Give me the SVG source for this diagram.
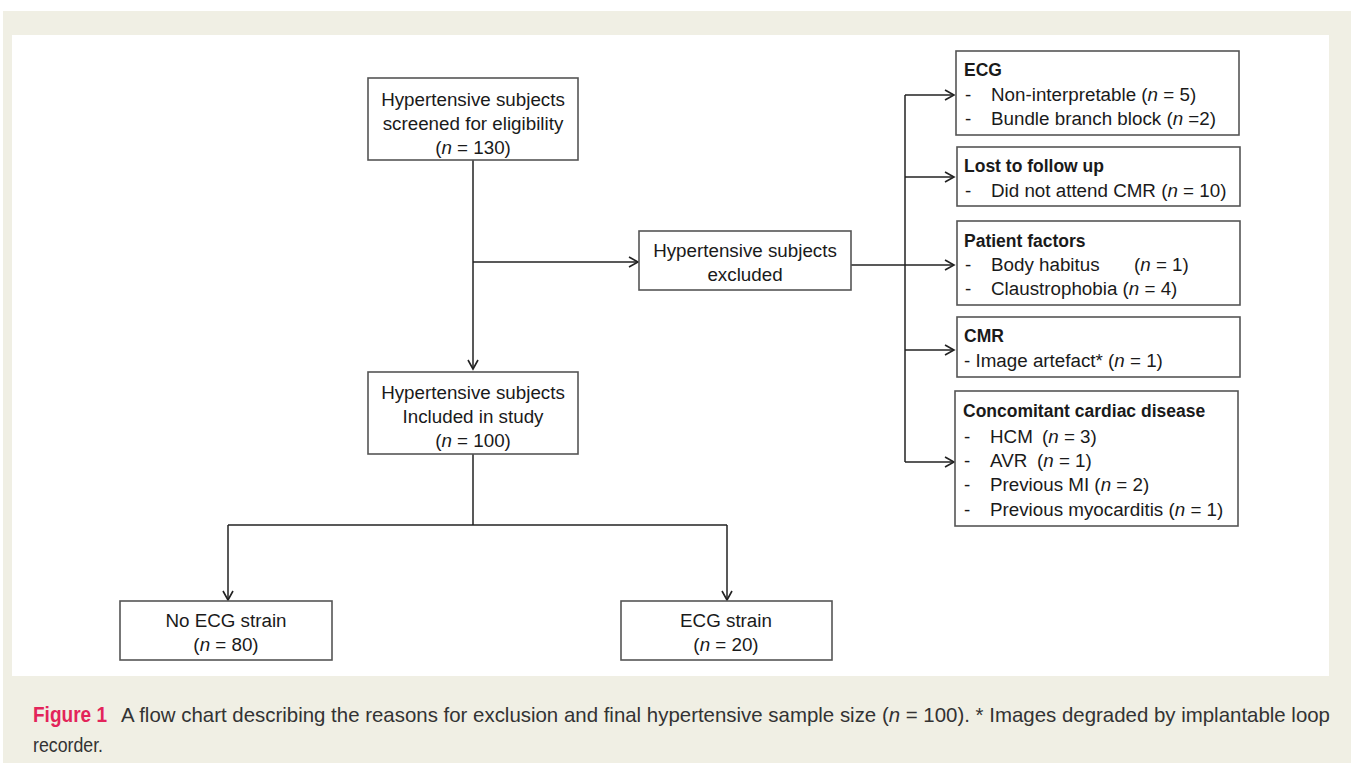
<svg xmlns="http://www.w3.org/2000/svg" width="1354" height="763" viewBox="0 0 1354 763">
<defs>
<marker id="arr" markerWidth="12" markerHeight="12" refX="10" refY="6" orient="auto" markerUnits="userSpaceOnUse">
<path d="M1,1 L10,6 L1,11" fill="none" stroke="#222" stroke-width="1.6"/>
</marker>
</defs>
<style>
.box{fill:#fff;stroke:#555;stroke-width:1.6}
.t{font-family:"Liberation Sans",Arial,sans-serif;font-size:18.8px;fill:#1a1a1a}
.c{text-anchor:middle}
.b{font-weight:bold;font-size:17.5px}
.i{font-style:italic}
.ln{fill:none;stroke:#222;stroke-width:1.5}
.cap{font-family:"Liberation Sans",Arial,sans-serif;font-size:21px;fill:#333}
.fig{font-family:"Liberation Sans",Arial,sans-serif;font-size:22px;font-weight:bold;fill:#e3245a}
</style>
<rect x="3" y="11" width="1348" height="752" fill="#f0efe4"/>
<rect x="12" y="35" width="1317" height="641" fill="#fff"/>

<g id="connectors">
<path class="ln" d="M473,160 V369" marker-end="url(#arr)"/>
<path class="ln" d="M473,262 H638" marker-end="url(#arr)"/>
<path class="ln" d="M851,265 H954" marker-end="url(#arr)"/>
<path class="ln" d="M905,95 V462"/>
<path class="ln" d="M905,95 H954" marker-end="url(#arr)"/>
<path class="ln" d="M905,177 H954" marker-end="url(#arr)"/>
<path class="ln" d="M905,350 H954" marker-end="url(#arr)"/>
<path class="ln" d="M905,462 H954" marker-end="url(#arr)"/>
<path class="ln" d="M473,454 V525"/>
<path class="ln" d="M228,525 H727"/>
<path class="ln" d="M228,525 V600" marker-end="url(#arr)"/>
<path class="ln" d="M727,525 V600" marker-end="url(#arr)"/>
</g>

<g id="screened">
<rect class="box" x="368" y="78" width="210" height="82"/>
<text class="t c" x="473" y="106">Hypertensive subjects</text>
<text class="t c" x="473" y="130">screened for eligibility</text>
<text class="t c" x="473" y="154">(<tspan class="i">n</tspan> = 130)</text>
</g>

<g id="excluded">
<rect class="box" x="639" y="231" width="212" height="59"/>
<text class="t c" x="745" y="257">Hypertensive subjects</text>
<text class="t c" x="745" y="281">excluded</text>
</g>

<g id="included">
<rect class="box" x="368" y="372" width="210" height="82"/>
<text class="t c" x="473" y="399">Hypertensive subjects</text>
<text class="t c" x="473" y="423">Included in study</text>
<text class="t c" x="473" y="447">(<tspan class="i">n</tspan> = 100)</text>
</g>

<g id="noecg">
<rect class="box" x="120" y="601" width="212" height="59"/>
<text class="t c" x="226" y="627">No ECG strain</text>
<text class="t c" x="226" y="651">(<tspan class="i">n</tspan> = 80)</text>
</g>

<g id="ecgstrain">
<rect class="box" x="621" y="601" width="211" height="59"/>
<text class="t c" x="726" y="627">ECG strain</text>
<text class="t c" x="726" y="651">(<tspan class="i">n</tspan> = 20)</text>
</g>

<g id="ecg">
<rect class="box" x="956" y="51" width="283" height="84"/>
<text class="t b" x="964" y="76">ECG</text>
<text class="t" x="965" y="101">-</text>
<text class="t" x="991" y="101">Non-interpretable (<tspan class="i">n</tspan> = 5)</text>
<text class="t" x="965" y="125">-</text>
<text class="t" x="991" y="125">Bundle branch block (<tspan class="i">n</tspan> =2)</text>
</g>

<g id="lost">
<rect class="box" x="957" y="147" width="283" height="59"/>
<text class="t b" x="964" y="172">Lost to follow up</text>
<text class="t" x="965" y="197">-</text>
<text class="t" x="991" y="197">Did not attend CMR (<tspan class="i">n</tspan> = 10)</text>
</g>

<g id="patient">
<rect class="box" x="957" y="221" width="283" height="84"/>
<text class="t b" x="964" y="247">Patient factors</text>
<text class="t" x="965" y="271">-</text>
<text class="t" x="991" y="271">Body habitus</text>
<text class="t" x="1134" y="271">(<tspan class="i">n</tspan> = 1)</text>
<text class="t" x="965" y="295">-</text>
<text class="t" x="991" y="295">Claustrophobia (<tspan class="i">n</tspan> = 4)</text>
</g>

<g id="cmr">
<rect class="box" x="957" y="317" width="283" height="60"/>
<text class="t b" x="964" y="342">CMR</text>
<text class="t" x="964" y="367">- Image artefact* (<tspan class="i">n</tspan> = 1)</text>
</g>

<g id="concomitant">
<rect class="box" x="955" y="391" width="283" height="135"/>
<text class="t b" x="963" y="417">Concomitant cardiac disease</text>
<text class="t" x="964" y="443">-</text>
<text class="t" x="990" y="443">HCM</text>
<text class="t" x="1042" y="443">(<tspan class="i">n</tspan> = 3)</text>
<text class="t" x="964" y="467">-</text>
<text class="t" x="990" y="467">AVR</text>
<text class="t" x="1037" y="467">(<tspan class="i">n</tspan> = 1)</text>
<text class="t" x="964" y="491">-</text>
<text class="t" x="990" y="491">Previous MI (<tspan class="i">n</tspan> = 2)</text>
<text class="t" x="964" y="516">-</text>
<text class="t" x="990" y="516">Previous myocarditis (<tspan class="i">n</tspan> = 1)</text>
</g>

<g id="caption">
<text class="fig" x="33" y="722" textLength="74" lengthAdjust="spacingAndGlyphs">Figure 1</text>
<text class="cap" x="121" y="722" textLength="1209" lengthAdjust="spacingAndGlyphs">A flow chart describing the reasons for exclusion and final hypertensive sample size (<tspan class="i">n</tspan> = 100). * Images degraded by implantable loop</text>
<text class="cap" x="33" y="752" textLength="70" lengthAdjust="spacingAndGlyphs">recorder.</text>
</g>
</svg>
